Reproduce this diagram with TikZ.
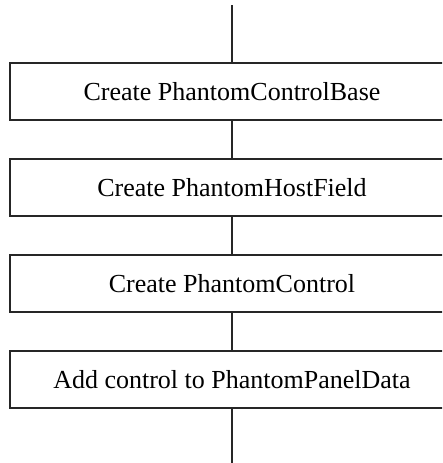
\documentclass[tikz,border=0pt]{standalone}
\usepackage{fontspec}
\setmainfont{Liberation Serif}
\begin{document}
\begin{tikzpicture}[x=1pt,y=-1pt,
  stepbox/.style={draw=black!85, line width=1.3pt, rectangle, minimum width=444pt, minimum height=57pt, inner sep=0pt, font=\fontsize{26}{30}\selectfont},
  conn/.style={draw=black!85, line width=1.3pt}]
\clip (0,0) rectangle (442,463);
\node[stepbox] (b1) at (232,91.5) {Create PhantomControlBase};
\node[stepbox] (b2) at (232,187.5) {Create PhantomHostField};
\node[stepbox] (b3) at (232,283.5) {Create PhantomControl};
\node[stepbox] (b4) at (232,379.5) {Add control to PhantomPanelData};
\coordinate (top) at (232,5);
\coordinate (bot) at (232,470);
\draw[conn] (top) -- (b1.north);
\draw[conn] (b1.south) -- (b2.north);
\draw[conn] (b2.south) -- (b3.north);
\draw[conn] (b3.south) -- (b4.north);
\draw[conn] (b4.south) -- (bot);
\end{tikzpicture}
\end{document}
